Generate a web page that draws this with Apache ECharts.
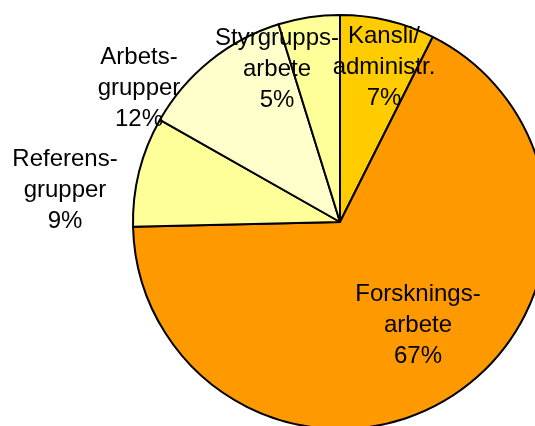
<!DOCTYPE html>
<html>
<head>
<meta charset="utf-8">
<script src="https://cdn.jsdelivr.net/npm/echarts@6/dist/echarts.min.js"></script>
<style>
  html, body { margin: 0; padding: 0; background: #fff; }
  #main { width: 535px; height: 426px; }
</style>
</head>
<body>
<div id="main"></div>
<script>
// andelar (%), medurs från kl. 12
var names = ['Kansli/\nadministr.', 'Forsknings-\narbete', 'Referens-\ngrupper', 'Arbets-\ngrupper', 'Styrgrupps-\narbete'];
var values = [7.4, 67.3, 8.6, 12.0, 4.8];

var colors = ['#FFCC00', '#FF9900', '#FFFF99', '#FFFFCC', '#FFFF99'];
// etiketternas mittpunkter (som i originalet, manuellt placerade)
var labelPos = [[384, 67], [418, 325], [65, 190], [139, 88], [277, 69]];

var myChart = echarts.init(document.getElementById('main'));

var pieData = [];
for (var i = 0; i < names.length; i++) {
	pieData.push({
		name: names[i],
		value: values[i],
		itemStyle: { color: colors[i] }
	});
}

var option = {
	animation: false,
	backgroundColor: '#fff',
	series: [
		{
			type: 'pie',
			center: [340, 222],
			radius: 207,
			startAngle: 90,
			clockwise: true,
			avoidLabelOverlap: false,
			percentPrecision: 0,
			emphasis: { disabled: true },
			itemStyle: {
				borderColor: '#000',
				borderWidth: 2
			},
			label: {
				show: true,
				position: 'inside',
				formatter: '{b}\n{d}%',
				color: '#000',
				fontFamily: 'Liberation Sans, Arial, sans-serif',
				fontSize: 24,
				lineHeight: 31,
				align: 'center'
			},
			labelLine: { show: false },
			labelLayout: function (params) {
				var p = labelPos[params.dataIndex];
				return { x: p[0], y: p[1], align: 'center', verticalAlign: 'middle' };
			},
			data: pieData
		}
	]
};
myChart.setOption(option);
</script>
</body>
</html>
